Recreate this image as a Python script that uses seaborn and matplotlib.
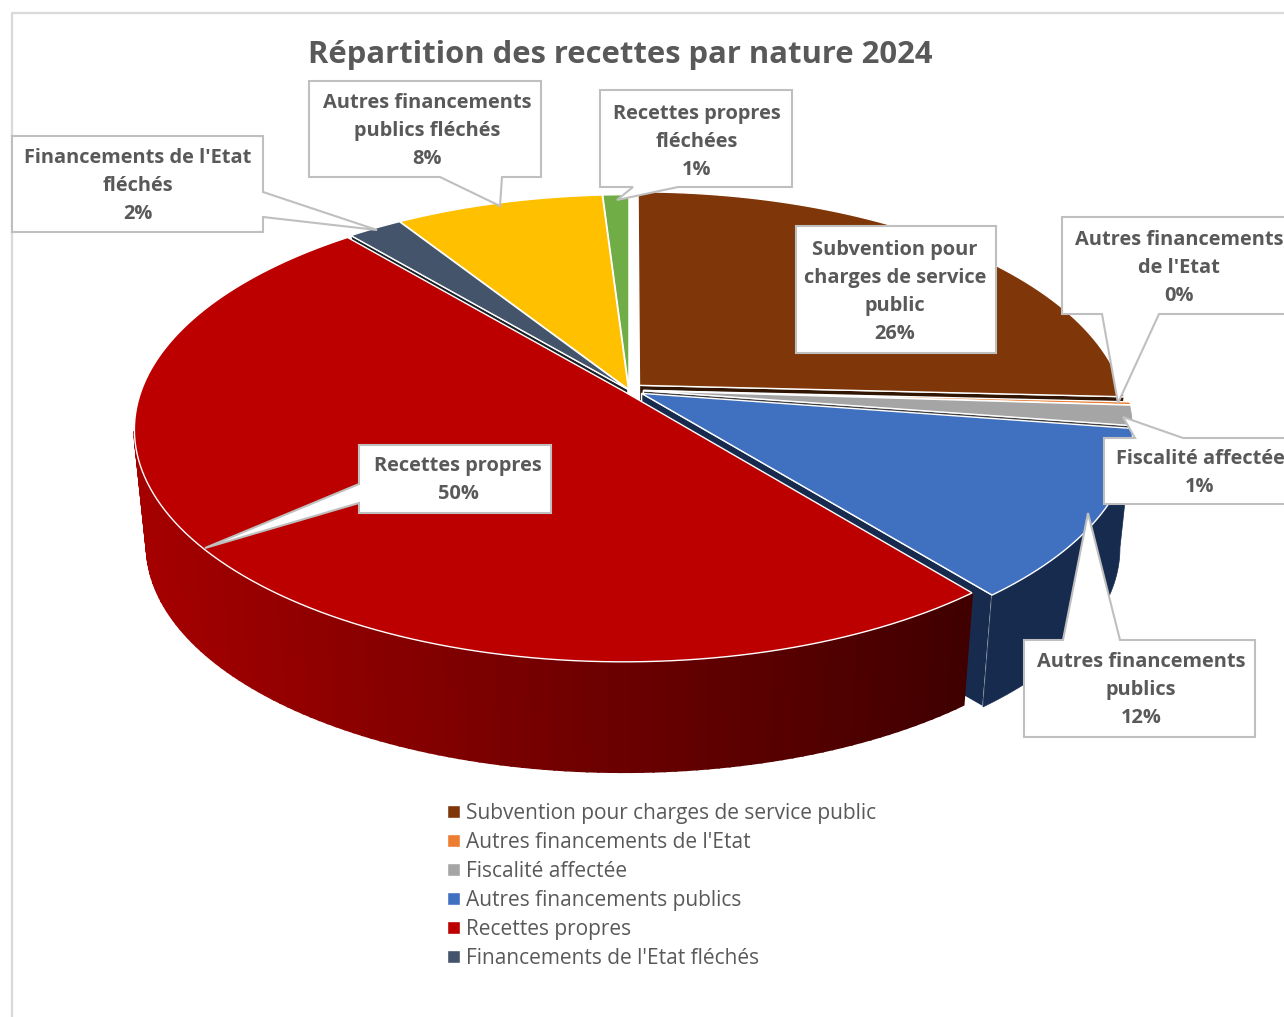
import numpy as np
import seaborn as sns
import matplotlib
matplotlib.use("Agg")
import matplotlib.pyplot as plt
from matplotlib.path import Path
from matplotlib.patches import Polygon
from matplotlib.transforms import Transform, Affine2D

categories = ["Subvention pour charges de service public", "Autres financements de l'Etat",
              "Fiscalité affectée", "Autres financements publics", "Recettes propres",
              "Financements de l'Etat fléchés", "Autres financements publics fléchés",
              "Recettes propres fléchées"]
shares = [25.7, 0.2, 1.4, 11.7, 49.5, 2.1, 8.0, 1.0]
colors = ["#7F3609", "#ED7D31", "#A5A5A5", "#4070C0", "#BC0000", "#44546A", "#FFC000", "#70AD47"]
explode = [0.03, 0.03, 0.03, 0.03, 0.012, 0.004, 0.004, 0.004]

# perspective of the 3d pie, in pixels of the picture
cx, cy = 629, 390
rx, ry = 483, 226
tilt = 0.161
drop = 117
shrink = 0.025


def project(x, y, z=0.0):
    w = (1 + tilt * y) / (1 - shrink * z)
    return cx + rx * x / w, cy + drop * z - ry * y / w


class Persp(Transform):
    input_dims = 2
    output_dims = 2
    is_separable = False

    def transform_non_affine(self, xy):
        xy = np.asarray(xy)
        return np.column_stack(project(xy[:, 0], xy[:, 1]))

    def transform_path_non_affine(self, path):
        # curves have to be flattened before the projection
        big = Affine2D().scale(1000).transform_path(path)
        poly = big.to_polygons(closed_only=True)[0] / 1000
        return Path(self.transform_non_affine(poly), closed=True)


sns.set_theme(style="white")
plt.rcParams["font.family"] = ["Open Sans", "DejaVu Sans"]
palette = sns.color_palette(colors)

fig = plt.figure(figsize=(12.84, 10.17), dpi=100)
ax = fig.add_axes([0, 0, 1, 1])
wedges, _ = ax.pie(shares, colors=palette, explode=explode, startangle=90, counterclock=False,
                   wedgeprops={"edgecolor": "white", "linewidth": 1.0})
ax.set_aspect("auto")
ax.set_xlim(0, 1284)
ax.set_ylim(1017, 0)

ax.plot([12, 12, 1284], [1017, 13, 13], color="#D9D9D9", lw=1.6, zorder=1)


def shade(col, t):
    return tuple(c * t for c in col)


def cut_face(wedge, angle, col, z):
    a = np.radians(angle)
    x0, y0 = wedge.center
    x1, y1 = x0 + wedge.r * np.cos(a), y0 + wedge.r * np.sin(a)
    top = project(np.array([x0, x1]), np.array([y0, y1]))
    bot = project(np.array([x1, x0]), np.array([y1, y0]), 1.0)
    ax.fill(np.r_[top[0], bot[0]], np.r_[top[1], bot[1]], facecolor=col, edgecolor="white",
            linewidth=1.0, zorder=z)


def outer_wall(wedge, col, z, red=False):
    ts = np.radians(np.linspace(wedge.theta1, wedge.theta2, 160))
    ts = ts[np.sin(ts) < -0.16]
    if len(ts) < 2:
        return
    x = wedge.center[0] + wedge.r * np.cos(ts)
    y = wedge.center[1] + wedge.r * np.sin(ts)
    xt, yt = project(x, y)
    xb, yb = project(x, y, 1.0)
    if not red:
        ax.fill(np.r_[xt, xb[::-1]], np.r_[yt, yb[::-1]], facecolor=col, edgecolor=col,
                linewidth=0.5, zorder=z)
        return
    for i in range(len(ts) - 1):
        # wall of the big slice gets darker to the right
        v = np.clip((xt[i] - 140) / 820, 0, 1)
        c = ((165 - 100 * v) / 255, 0, 0)
        ax.fill([xt[i], xt[i + 1], xb[i + 1], xb[i]], [yt[i], yt[i + 1], yb[i + 1], yb[i]],
                facecolor=c, edgecolor=c, linewidth=1.5, zorder=z)


# painter order, far slices first
order = [7, 6, 5, 0, 1, 2, 3, 4]
for n, i in enumerate(order):
    w = wedges[i]
    z = 2 + n
    side = shade(palette[i], 0.38)
    if i == 3:
        side = "#172B4F"
    if np.cos(np.radians(w.theta1)) > 0:
        cut_face(w, w.theta1, side, z)
    if np.cos(np.radians(w.theta2)) < 0:
        cut_face(w, w.theta2, side, z)
    outer_wall(w, side, z, red=(i == 4))
    w.set_transform(Persp() + ax.transData)
    w.set_zorder(z + 0.5)

ax.text(620, 55, "Répartition des recettes par nature 2024", ha="center", va="center",
        fontsize=22.3, fontweight="bold", color="#595959", zorder=30)

# data labels: text position, text, outline of the callout
pct = [f"{s:.0f}%" for s in shares]
callouts = [
    (895, 292, "Subvention pour\ncharges de service\npublic\n" + pct[0],
     [(796, 226), (996, 226), (996, 353), (796, 353)]),
    (1179, 268, "Autres financements\nde l'Etat\n" + pct[1],
     [(1062, 217), (1300, 217), (1300, 314), (1159, 314), (1118, 403), (1102, 314), (1062, 314)]),
    (1200, 473, "Fiscalité affectée\n" + pct[2],
     [(1104, 438), (1135, 438), (1123, 417), (1183, 438), (1300, 438), (1300, 504), (1104, 504)]),
    (1141, 690, "Autres financements\npublics\n" + pct[3],
     [(1024, 640), (1063, 640), (1088, 513), (1120, 640), (1255, 640), (1255, 737), (1024, 737)]),
    (458, 480, "Recettes propres\n" + pct[4],
     [(359, 445), (551, 445), (551, 513), (359, 513), (359, 503), (205, 548), (359, 484)]),
    (138, 186, "Financements de l'Etat\nfléchés\n" + pct[5],
     [(12, 136), (263, 136), (263, 192), (377, 230), (263, 217), (263, 232), (12, 232)]),
    (427, 131, "Autres financements\npublics fléchés\n" + pct[6],
     [(309, 81), (541, 81), (541, 177), (502, 177), (500, 206), (440, 177), (309, 177)]),
    (697, 142, "Recettes propres\nfléchées\n" + pct[7],
     [(600, 90), (792, 90), (792, 187), (678, 187), (617, 200), (633, 187), (600, 187)]),
]
for tx, ty, txt, outline in callouts:
    ax.add_patch(Polygon(outline, closed=True, facecolor="white", edgecolor="#BFBFBF",
                         linewidth=1.5, zorder=20))
    ax.text(tx, ty, txt, ha="center", va="center", fontsize=14.4, fontweight="bold",
            color="#595959", linespacing=1.52, zorder=21)

# the legend of the reference stops after six entries
ax.legend(wedges[:6], categories[:6], loc="upper left", bbox_to_anchor=(447 / 1284, 1 - 803 / 1017),
          frameon=False, fontsize=15, labelcolor="#595959", handlelength=0.6, handleheight=0.6,
          handletextpad=0.33, labelspacing=0.38, borderpad=0, borderaxespad=0)

fig.savefig("out.png", dpi=100, facecolor="white")
